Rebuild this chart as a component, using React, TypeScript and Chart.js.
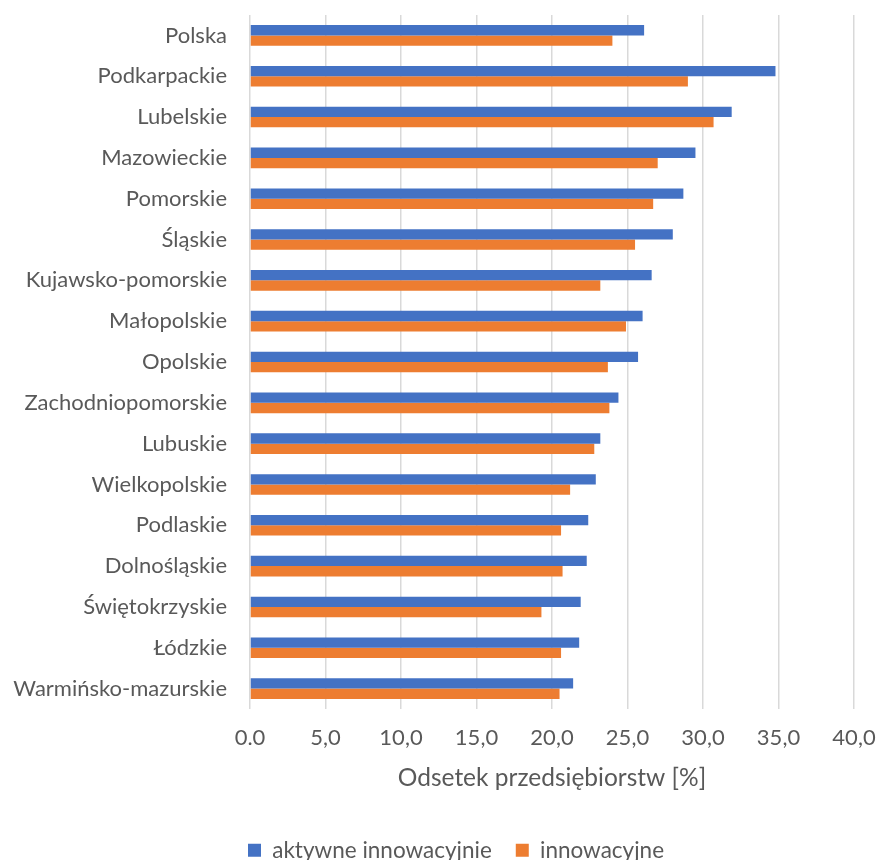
import React, { useEffect, useRef } from "react";
import { Chart, registerables } from "chart.js";

Chart.register(...registerables);

const categories = [
  "Polska",
  "Podkarpackie",
  "Lubelskie",
  "Mazowieckie",
  "Pomorskie",
  "Śląskie",
  "Kujawsko-pomorskie",
  "Małopolskie",
  "Opolskie",
  "Zachodniopomorskie",
  "Lubuskie",
  "Wielkopolskie",
  "Podlaskie",
  "Dolnośląskie",
  "Świętokrzyskie",
  "Łódzkie",
  "Warmińsko-mazurskie",
];

const aktywneInnowacyjnie = [26.1, 34.8, 31.9, 29.5, 28.7, 28.0, 26.6, 26.0, 25.7, 24.4, 23.2, 22.9, 22.4, 22.3, 21.9, 21.8, 21.4];
const innowacyjne = [24.0, 29.0, 30.7, 27.0, 26.7, 25.5, 23.2, 24.9, 23.7, 23.8, 22.8, 21.2, 20.6, 20.7, 19.3, 20.6, 20.5];

const xTickLabels = ["0.0", "5,0", "10,0", "15,0", "20,0", "25,0", "30,0", "35,0", "40,0"];
const seriesNames = ["aktywne innowacyjnie", "innowacyjne"];
const axisTitle = "Odsetek przedsiębiorstw [%]";

const FONT = "Lato, 'Open Sans', sans-serif";
const TEXT = "#595959";

export default function App() {
  const ref = useRef<HTMLCanvasElement | null>(null);

  useEffect(() => {
    if (!ref.current) return;
    const legendShift = {
      id: "legendShift",
      beforeInit(chart: any) {
        const orig = chart.legend.fit;
        chart.legend.fit = function () {
          orig.bind(chart.legend)();
          this.height = 45;
        };
      },
      afterLayout(chart: any) {
        if (chart.legend) chart.legend.left += 58;
      },
    };
    const chart = new Chart(ref.current, {
      type: "bar",
      data: {
        labels: categories,
        datasets: [
          {
            label: seriesNames[0],
            data: aktywneInnowacyjnie,
            backgroundColor: "#4472C4",
            borderWidth: 0,
          },
          {
            label: seriesNames[1],
            data: innowacyjne,
            backgroundColor: "#ED7D31",
            borderWidth: 0,
          },
        ],
      },
      plugins: [legendShift],
      options: {
        indexAxis: "y",
        animation: false,
        responsive: false,
        maintainAspectRatio: false,
        layout: { padding: { left: 0, right: 23, top: 15, bottom: 0 } },
        datasets: {
          bar: { categoryPercentage: 0.505, barPercentage: 1 },
        },
        scales: {
          x: {
            min: 0,
            max: 40,
            ticks: {
              stepSize: 5,
              color: TEXT,
              font: { family: FONT, size: 22 },
              padding: 16,
              callback: (_v: any, i: number) => xTickLabels[i],
            },
            grid: { color: "#D9D9D9", lineWidth: 1.5, drawTicks: false },
            border: { display: false },
            title: {
              display: true,
              text: axisTitle,
              color: TEXT,
              font: { family: FONT, size: 24.5 },
              padding: { top: 0, bottom: 22 },
            },
            afterFit: (scale: any) => {
              scale.height = 106;
              scale.paddingLeft = 0;
              scale.paddingRight = 0;
            },
          },
          y: {
            ticks: {
              color: TEXT,
              font: { family: FONT, size: 22 },
              padding: 23,
              autoSkip: false,
            },
            grid: { display: false, drawTicks: false },
            border: { display: false },
            afterFit: (scale: any) => {
              scale.width = 250;
              scale.paddingTop = 0;
              scale.paddingBottom = 0;
            },
          },
        },
        plugins: {
          legend: {
            position: "bottom",
            labels: {
              color: TEXT,
              font: { family: FONT, size: 22.5 },
              boxWidth: 13,
              boxHeight: 13,
              padding: 24,
            },
          },
          tooltip: { enabled: false },
        },
      },
    } as any);
    return () => chart.destroy();
  }, []);

  return (
    <div style={{ position: "fixed", left: 0, top: 0, width: 877, height: 860, overflow: "hidden", background: "#fff" }}>
      <canvas ref={ref} width={877} height={860} style={{ width: 877, height: 860, display: "block" }} />
    </div>
  );
}
